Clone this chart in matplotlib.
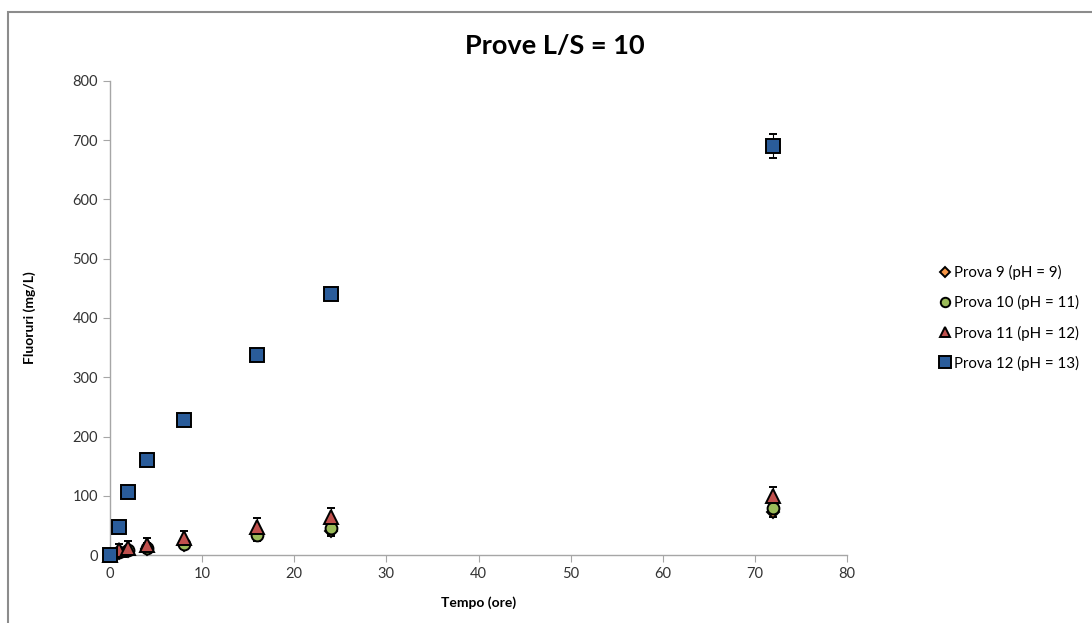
import numpy as np
import matplotlib.pyplot as plt
from matplotlib.patches import Rectangle

# Tempi di campionamento (ore)
tempo = [0, 1, 2, 4, 8, 16, 24, 72]

# Concentrazioni di fluoruri (mg/L) per ciascuna prova
prova9 = [0, 3, 6, 10, 17, 35, 40, 72]
prova10 = [0, 5, 8, 12, 18, 33, 45, 80]
prova11 = [0, 8, 12, 17, 28, 48, 65, 100]
prova12 = [0, 48, 107, 160, 228, 338, 440, 690]

# Deviazioni standard
err9 = [0, 5, 6, 7, 7, 8, 8, 8]
err10 = [0, 6, 7, 8, 8, 9, 9, 9]
err11 = [0, 10, 12, 12, 12, 14, 14, 14]
err12 = [0, 4, 5, 5, 6, 8, 10, 20]

etichette = ['Prova 9 (pH = 9)', 'Prova 10 (pH = 11)',
             'Prova 11 (pH = 12)', 'Prova 12 (pH = 13)']
serie = [prova9, prova10, prova11, prova12]
errori = [err9, err10, err11, err12]
marker = ['D', 'o', '^', 's']
colori = ['#F79646', '#9BBB59', '#C0504D', '#2A5C9A']
dimensioni = [6.5, 8.5, 9.5, 10]

plt.rcParams['font.family'] = ['Lato', 'DejaVu Sans']

fig = plt.figure(figsize=(10.92, 6.23), dpi=100)
ax = fig.add_axes([0.1007, 0.1091, 0.675, 0.761])

maniglie = []
for y, e, m, c, s, lab in zip(serie, errori, marker, colori, dimensioni, etichette):
    cont = ax.errorbar(tempo, y, yerr=e, fmt=m, color=c, markerfacecolor=c,
                       markeredgecolor='black', markeredgewidth=1.4, markersize=s,
                       ecolor='black', elinewidth=0.8, capsize=3, capthick=0.8,
                       label=lab, clip_on=False, zorder=3)
    maniglie.append(cont[0])

ax.set_xlim(0, 80)
ax.set_ylim(0, 800)
ax.set_xticks(np.arange(0, 81, 10))
ax.set_yticks(np.arange(0, 801, 100))
for lato in ['top', 'right']:
    ax.spines[lato].set_visible(False)
for lato in ['left', 'bottom']:
    ax.spines[lato].set_color('#A6A6A6')
    ax.spines[lato].set_linewidth(1.0)
ax.tick_params(colors='#A6A6A6', labelcolor='#333333', labelsize=10.5,
               length=5, direction='out')

fig.suptitle('Prove L/S = 10', x=0.508, y=0.945, fontsize=19.5,
             fontweight='bold')
ax.set_xlabel('Tempo (ore)', fontsize=10, fontweight='bold', labelpad=11)
ax.set_ylabel('Fluoruri (mg/L)', fontsize=10, fontweight='bold', labelpad=26)

ax.legend(maniglie, etichette, loc='center left', bbox_to_anchor=(1.105, 0.5),
          frameon=False, fontsize=10.8, handletextpad=0.1, labelspacing=1.0,
          handlelength=1.0, markerscale=0.8)

# Cornice del grafico
fig.patches.append(Rectangle((8 / 1092, -0.1), 1.2, 1 - 12 / 623 + 0.1,
                             transform=fig.transFigure, fill=False,
                             edgecolor='#8C8C8C', linewidth=1.5))

fig.savefig('out.png', dpi=100)
